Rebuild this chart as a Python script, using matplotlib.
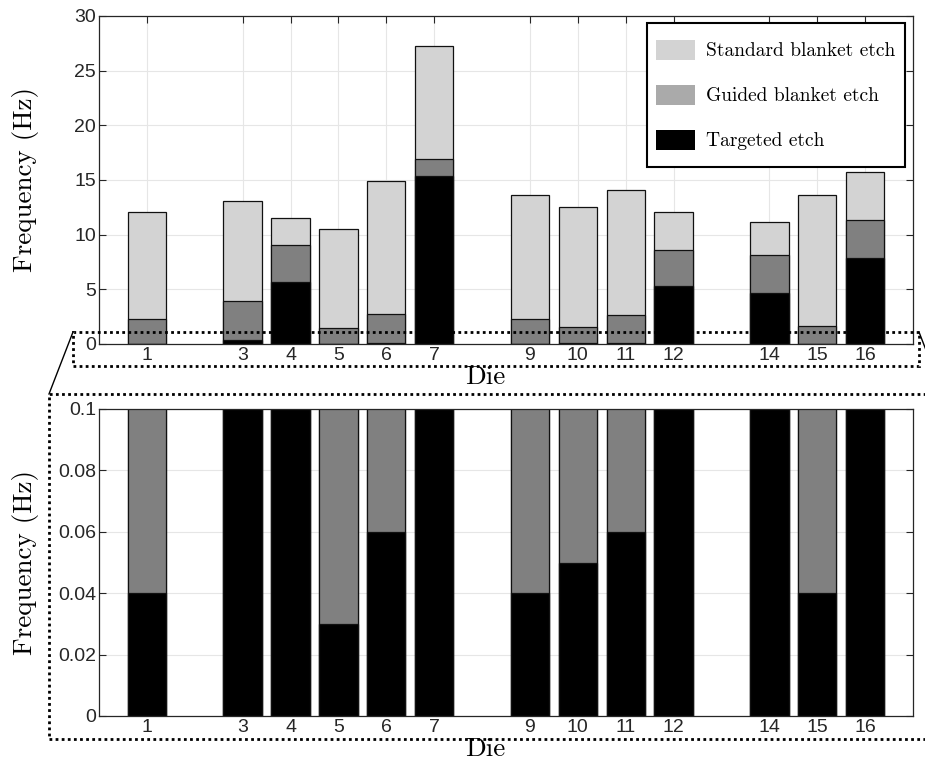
import numpy as np
import matplotlib
matplotlib.use("Agg")
import matplotlib.pyplot as plt
from matplotlib.patches import Patch, Rectangle
from matplotlib.lines import Line2D
from matplotlib.legend_handler import HandlerPatch

# frequency per die for the three etch strategies (Hz)
dies = [1, 3, 4, 5, 6, 7, 9, 10, 11, 12, 14, 15, 16]
standard = [12.11, 13.09, 11.50, 10.50, 14.95, 27.22, 13.61, 12.51, 14.13, 12.05, 11.17, 13.67, 15.75]
guided = [2.32, 3.97, 9.06, 1.50, 2.75, 16.94, 2.32, 1.59, 2.65, 8.57, 8.12, 1.65, 11.32]
targeted = [0.04, 0.34, 5.68, 0.03, 0.06, 15.38, 0.04, 0.05, 0.06, 5.34, 4.67, 0.04, 7.87]
labels = ["Standard blanket etch", "Guided blanket etch", "Targeted etch"]

W, H = 925, 769
fig = plt.figure(figsize=(W / 100, H / 100), dpi=100)

serif = "cmr10"
tickfont = "Liberation Sans"
dark = "#262626"


def px(x, y):
    return x / W, 1 - y / H


def box(left, top, right, bottom):
    x0, y1 = px(left, top)
    x1, y0 = px(right, bottom)
    return [x0, y0, x1 - x0, y1 - y0]


def style(ax, ylim, yticks, ylabels):
    ax.set_xlim(0, 17)
    ax.set_ylim(*ylim)
    ax.set_xticks(dies)
    ax.set_xticklabels([str(d) for d in dies], fontfamily=tickfont, fontsize=14, color=dark)
    ax.set_yticks(yticks)
    ax.set_yticklabels(ylabels, fontfamily=tickfont, fontsize=14, color=dark)
    ax.tick_params(direction="in", top=True, right=True, length=5, width=0.8, color=dark, pad=2)
    ax.grid(True, color="#e6e6e6", linewidth=0.8)
    ax.set_axisbelow(True)
    for s in ax.spines.values():
        s.set_color(dark)
        s.set_linewidth(0.9)
    ax.set_ylabel("Frequency (Hz)", fontfamily=serif, fontsize=19.5)
    ax.yaxis.set_label_coords(-0.074, 0.5)
    ax.set_xlabel("Die", fontfamily=serif, fontsize=19.5, labelpad=1)
    ax.xaxis.label.set_position((0.475, 0))


def draw_bars(ax):
    kw = dict(width=0.8, edgecolor="#111111", linewidth=0.9, zorder=2)
    ax.bar(dies, standard, color="#d3d3d3", **kw)
    ax.bar(dies, guided, color="#808080", **kw)
    ax.bar(dies, targeted, color="black", **kw)


def slim_patch(legend, orig_handle, xdescent, ydescent, width, height, fontsize):
    h = 1.03 * fontsize
    return Rectangle((-xdescent, -ydescent + (height - h) / 2), width, h)


ax1 = fig.add_axes(box(99, 16, 913, 344))
draw_bars(ax1)
style(ax1, (0, 30), np.arange(0, 31, 5), [str(v) for v in range(0, 31, 5)])

handles = [Patch(facecolor=c, edgecolor="none") for c in ["#d3d3d3", "#aaaaaa", "black"]]
leg = ax1.legend(handles, labels, loc="upper right", bbox_to_anchor=(0.990, 0.979),
                 borderaxespad=0, prop={"family": serif, "size": 14}, fancybox=False,
                 framealpha=1, edgecolor="black", handlelength=2.0, handleheight=2.4,
                 labelspacing=0.5, borderpad=0.5, handletextpad=0.55,
                 handler_map={Patch: HandlerPatch(patch_func=slim_patch)})
leg.get_frame().set_linewidth(1.5)

ax2 = fig.add_axes(box(99, 409, 913, 716))
draw_bars(ax2)
style(ax2, (0, 0.1), [0, 0.02, 0.04, 0.06, 0.08, 0.1],
      ["0", "0.02", "0.04", "0.06", "0.08", "0.1"])

# dotted zoom window around the base of the upper plot and its enlarged view
for l, t, r, b in [(73, 332, 919, 366), (49, 394, 960, 739)]:
    x0, y1 = px(l, t)
    x1, y0 = px(r, b)
    fig.add_artist(Rectangle((x0, y0), x1 - x0, y1 - y0, transform=fig.transFigure,
                             fill=False, linestyle=(0, (1, 1.2)), linewidth=2,
                             edgecolor="black", zorder=10))
for (xa, ya), (xb, yb) in [((73, 332), (49, 394)), ((919, 332), (943, 394))]:
    p, q = px(xa, ya), px(xb, yb)
    fig.add_artist(Line2D([p[0], q[0]], [p[1], q[1]], transform=fig.transFigure,
                          color="black", linewidth=1, zorder=10))

fig.savefig("out.png", dpi=100)
